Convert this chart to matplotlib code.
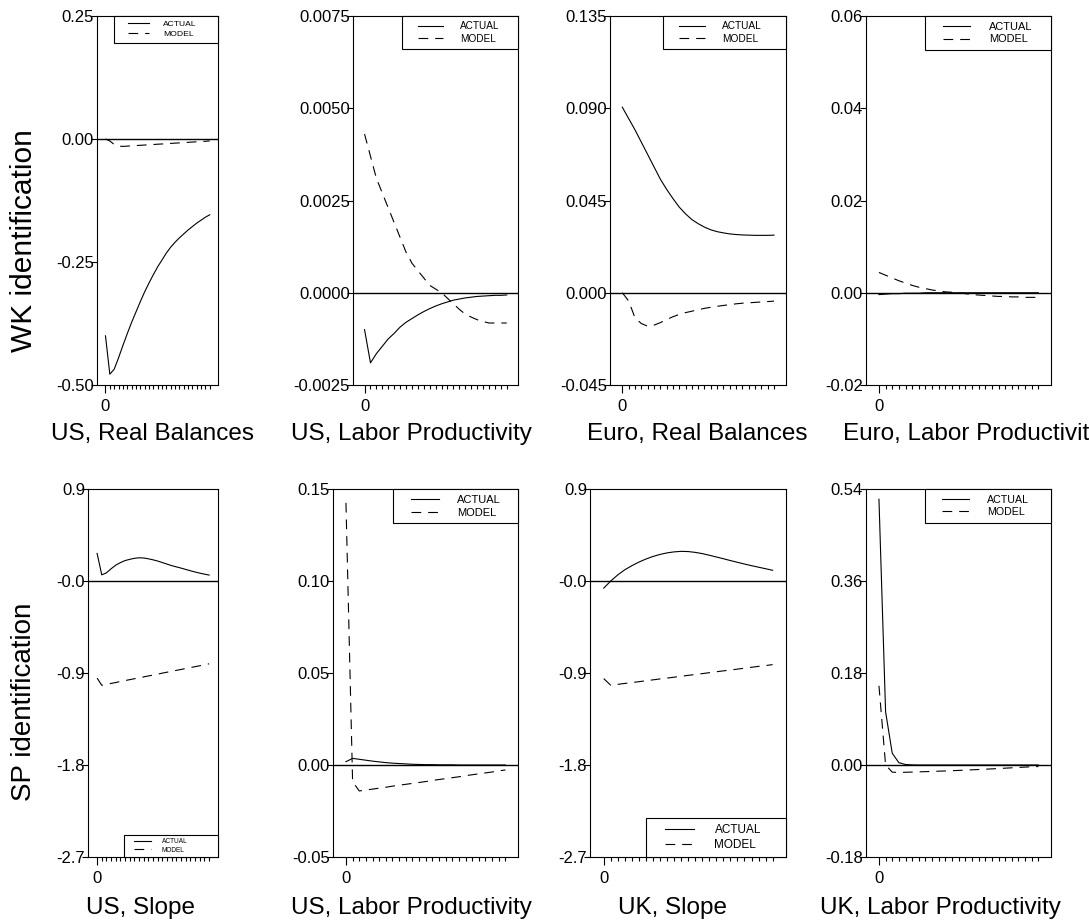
import matplotlib
matplotlib.use('Agg')
import matplotlib.pyplot as plt
from matplotlib.ticker import FixedLocator, FixedFormatter
from matplotlib.legend_handler import HandlerLine2D
from matplotlib.lines import Line2D

plt.rcParams['font.family'] = ['Liberation Sans', 'DejaVu Sans']
plt.rcParams['lines.scale_dashes'] = False

# horizon (quarters after the shock)
horizon = list(range(25))

# ---- WK identification (top row) ----
us_rb_actual = [-0.400, -0.478, -0.468, -0.445, -0.420, -0.396, -0.373, -0.352, -0.331, -0.311,
                -0.293, -0.276, -0.260, -0.246, -0.232, -0.220, -0.210, -0.201, -0.193, -0.185,
                -0.178, -0.171, -0.165, -0.159, -0.154]
us_rb_model = [0.000, -0.004, -0.011, -0.0145, -0.015, -0.0145, -0.0139, -0.0134, -0.0128, -0.0123,
               -0.0117, -0.0112, -0.0106, -0.0101, -0.0095, -0.0090, -0.0084, -0.0079, -0.0073, -0.0068,
               -0.0062, -0.0057, -0.0051, -0.0046, -0.0040]

us_lp_wk_actual = [-0.0010, -0.0019, -0.00165, -0.00145, -0.00125, -0.0011, -0.00093, -0.0008, -0.0007, -0.0006,
                   -0.00051, -0.00043, -0.00036, -0.0003, -0.00025, -0.0002, -0.00017, -0.00014, -0.00012, -0.0001,
                   -0.00009, -0.00008, -0.00007, -0.00007, -0.00006]
us_lp_wk_model = [0.0043, 0.0037, 0.0031, 0.0027, 0.0023, 0.0019, 0.0015, 0.0011, 0.0008, 0.0006,
                  0.0004, 0.0002, 0.0001, 0.0000, -0.00015, -0.0003, -0.00045, -0.00058, -0.00066, -0.00073,
                  -0.00078, -0.00082, -0.00082, -0.00082, -0.00082]

eu_rb_actual = [0.0905, 0.085, 0.0795, 0.0735, 0.0675, 0.0615, 0.0555, 0.0505, 0.046, 0.0418,
                0.0385, 0.0357, 0.0337, 0.032, 0.0307, 0.0298, 0.0292, 0.0287, 0.0284, 0.0282,
                0.0281, 0.028, 0.028, 0.028, 0.0281]
eu_rb_model = [0.0, -0.004, -0.0122, -0.015, -0.0163, -0.0158, -0.0146, -0.0131, -0.0117, -0.0106,
               -0.0097, -0.0090, -0.0083, -0.0076, -0.0071, -0.0066, -0.0062, -0.0058, -0.0054, -0.0051,
               -0.0049, -0.0047, -0.0045, -0.0043, -0.0041]

eu_lp_actual = [-0.0004, -0.0003, -0.0002, -0.0002, -0.0001, -0.0001, -0.0001, 0.0, 0.0, 0.0,
                0.0, 0.0, 0.0, 0.0, 0.0, 0.0, 0.0, 0.0, 0.0, 0.0,
                0.0, 0.0, 0.0, 0.0, 0.0]
eu_lp_model = [0.0044, 0.0038, 0.0032, 0.0026, 0.0021, 0.0016, 0.0012, 0.0009, 0.0006, 0.0004,
               0.0002, 0.0001, 0.0, -0.0002, -0.0004, -0.0005, -0.0006, -0.0007, -0.0008, -0.0008,
               -0.0009, -0.0009, -0.0010, -0.0010, -0.0010]

# ---- SP identification (bottom row) ----
us_sl_actual = [0.27, 0.06, 0.08, 0.12, 0.155, 0.18, 0.20, 0.212, 0.222, 0.227,
                0.225, 0.217, 0.207, 0.195, 0.18, 0.165, 0.15, 0.138, 0.126, 0.113,
                0.10, 0.088, 0.077, 0.067, 0.058]
us_sl_model = [-0.95, -1.02, -1.011, -1.002, -0.993, -0.983, -0.974, -0.965, -0.956, -0.947,
               -0.938, -0.929, -0.920, -0.911, -0.901, -0.892, -0.883, -0.874, -0.865, -0.856,
               -0.847, -0.838, -0.829, -0.820, -0.810]

us_lp_sp_actual = [0.0018, 0.0036, 0.0031, 0.0026, 0.0021, 0.0017, 0.0013, 0.0010, 0.0008, 0.0006,
                   0.0004, 0.0003, 0.0002, 0.0002, 0.0001, 0.0001, 0.0001, 0.0, 0.0, 0.0,
                   0.0, 0.0, 0.0, 0.0, 0.0]
us_lp_sp_model = [0.1425, -0.009, -0.0141, -0.0136, -0.0131, -0.0126, -0.0121, -0.0115, -0.0110, -0.0105,
                  -0.0100, -0.0095, -0.0090, -0.0084, -0.0079, -0.0074, -0.0069, -0.0064, -0.0058, -0.0053,
                  -0.0048, -0.0043, -0.0038, -0.0032, -0.0027]

uk_sl_actual = [-0.07, 0.0, 0.06, 0.11, 0.15, 0.185, 0.215, 0.24, 0.26, 0.275,
                0.285, 0.29, 0.288, 0.28, 0.268, 0.252, 0.235, 0.218, 0.20, 0.183,
                0.166, 0.15, 0.135, 0.12, 0.105]
uk_sl_model = [-0.955, -1.02, -1.011, -1.002, -0.994, -0.985, -0.976, -0.967, -0.958, -0.950,
               -0.941, -0.932, -0.923, -0.915, -0.906, -0.897, -0.888, -0.879, -0.871, -0.862,
               -0.853, -0.844, -0.835, -0.827, -0.818]

uk_lp_actual = [0.52, 0.104, 0.023, 0.0045, 0.001, 0.0002, 0.0, 0.0, 0.0, 0.0,
                0.0, 0.0, 0.0, 0.0, 0.0, 0.0, 0.0, 0.0, 0.0, 0.0,
                0.0, 0.0, 0.0, 0.0, 0.0]
uk_lp_model = [0.155, 0.0, -0.014, -0.0145, -0.0142, -0.0138, -0.0134, -0.0130, -0.0126, -0.0121,
               -0.0116, -0.0111, -0.0106, -0.0100, -0.0094, -0.0088, -0.0082, -0.0076, -0.0069, -0.0062,
               -0.0055, -0.0048, -0.0041, -0.0035, -0.0030]

actual_series = [us_rb_actual, us_lp_wk_actual, eu_rb_actual, eu_lp_actual,
                 us_sl_actual, us_lp_sp_actual, uk_sl_actual, uk_lp_actual]
model_series = [us_rb_model, us_lp_wk_model, eu_rb_model, eu_lp_model,
                us_sl_model, us_lp_sp_model, uk_sl_model, uk_lp_model]

panel_titles = ['US, Real Balances', 'US, Labor Productivity', 'Euro, Real Balances', 'Euro, Labor Productivity',
                'US, Slope', 'US, Labor Productivity', 'UK, Slope', 'UK, Labor Productivity']
row_labels = ['WK identification', 'SP identification']

ytick_labels = [
    ['0.25', '0.00', '-0.25', '-0.50'],
    ['0.0075', '0.0050', '0.0025', '0.0000', '-0.0025'],
    ['0.135', '0.090', '0.045', '0.000', '-0.045'],
    ['0.06', '0.04', '0.02', '0.00', '-0.02'],
    ['0.9', '-0.0', '-0.9', '-1.8', '-2.7'],
    ['0.15', '0.10', '0.05', '0.00', '-0.05'],
    ['0.9', '-0.0', '-0.9', '-1.8', '-2.7'],
    ['0.54', '0.36', '0.18', '0.00', '-0.18'],
]

# ---- layout (pixels in a 1089 x 924 figure) ----
W, H = 1089, 924
ax_left = [97, 353, 610, 866, 88, 333, 590, 866]
ax_right = [218, 518, 786, 1051, 218, 518, 786, 1051]
ax_top = [16] * 4 + [489] * 4
ax_bottom = [385] * 4 + [857] * 4

leg_width = [104, 116, 123, 126, 94, 125, 140, 126]
leg_font = [6.1, 7.2, 7.3, 7.9, 4.7, 8.0, 8.5, 7.7]
leg_loc = ['upper right'] * 4 + ['lower right', 'upper right', 'lower right', 'upper right']

title_x = [152, 411, 697, 972, 141, 411, 673, 940]
title_base = [440] * 4 + [914] * 4

fig = plt.figure(figsize=(W / 100, H / 100), dpi=100)

for i in range(8):
    l, r, t, b = ax_left[i], ax_right[i], ax_top[i], ax_bottom[i]
    ax = fig.add_axes([l / W, 1 - b / H, (r - l) / W, (b - t) / H])

    ax.plot(horizon, actual_series[i], color='black', lw=0.8, label='ACTUAL')
    ax.plot(horizon, model_series[i], color='black', lw=0.8, dashes=(7, 5), label='MODEL')
    ax.axhline(0, color='black', lw=1.0)

    yvals = [float(s) for s in ytick_labels[i]]
    ax.set_xlim(-1.95, 25.9)
    ax.set_ylim(yvals[-1], yvals[0])
    ax.yaxis.set_major_locator(FixedLocator(yvals))
    ax.yaxis.set_major_formatter(FixedFormatter(ytick_labels[i]))
    ax.xaxis.set_major_locator(FixedLocator([0]))
    ax.xaxis.set_major_formatter(FixedFormatter(['0']))
    ax.xaxis.set_minor_locator(FixedLocator(horizon[1:]))

    ax.tick_params(axis='x', which='major', length=5.8, width=0.8, labelsize=12, pad=4.5)
    ax.tick_params(axis='x', which='minor', length=2.7, width=0.8)
    ax.tick_params(axis='y', length=4.3, width=0.8, labelsize=12, pad=-2.2)
    for sp in ax.spines.values():
        sp.set_linewidth(0.8)

    # legend box flush with the corner, fixed width, text left-packed
    w = leg_width[i] / (r - l)
    leg = ax.legend(loc=leg_loc[i], bbox_to_anchor=(1 - w, 0, w, 1), mode='expand',
                    borderaxespad=0, fontsize=leg_font[i], fancybox=False, edgecolor='black',
                    framealpha=1, borderpad=0.52, labelspacing=0.25, numpoints=2,
                    handlelength=4.66, handletextpad=0.62,
                    handler_map={Line2D: HandlerLine2D(marker_pad=1.08)})
    leg.get_frame().set_linewidth(0.8)

    fig.text(title_x[i] / W, 1 - title_base[i] / H, panel_titles[i],
             ha='center', va='baseline', fontsize=17.5)

fig.text(24 / W, 1 - 241 / H, row_labels[0], rotation=90, ha='center', va='center', fontsize=21.5)
fig.text(24 / W, 1 - 702 / H, row_labels[1], rotation=90, ha='center', va='center', fontsize=20)

fig.savefig('out.png', dpi=100)
